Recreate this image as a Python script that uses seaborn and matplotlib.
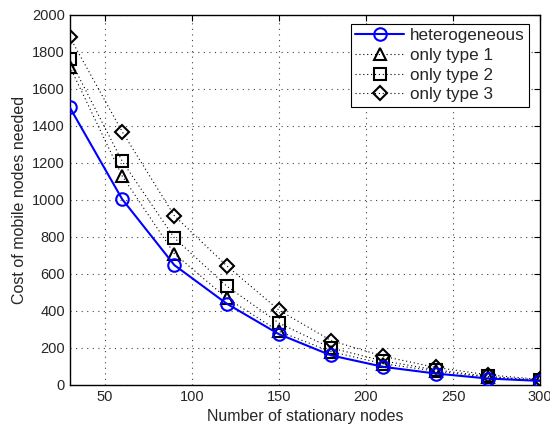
import matplotlib
matplotlib.use("Agg")
import matplotlib.pyplot as plt
import seaborn as sns
import pandas as pd

stationary_nodes = [30, 60, 90, 120, 150, 180, 210, 240, 270, 300]
heterogeneous = [1500, 1005, 648, 440, 275, 160, 98, 62, 35, 22]
only_type1 = [1720, 1130, 710, 470, 290, 180, 115, 75, 42, 25]
only_type2 = [1760, 1210, 795, 535, 335, 200, 130, 82, 46, 27]
only_type3 = [1880, 1370, 915, 645, 405, 240, 155, 95, 55, 30]

series_names = ["heterogeneous", "only type 1", "only type 2", "only type 3"]
x_ticks = [50, 100, 150, 200, 250, 300]
y_ticks = [0, 200, 400, 600, 800, 1000, 1200, 1400, 1600, 1800, 2000]

sns.set_style("white")
plt.rcParams["font.family"] = ["Liberation Sans", "DejaVu Sans"]

fig = plt.figure(figsize=(5.5, 4.28), dpi=100)
ax = fig.add_axes([0.127, 0.1005, 0.855, 0.8645])

dots = (0, (1, 2.5))
styles = [
    dict(color="#0000ff", linestyle="-", linewidth=1.5, marker="o", markersize=9),
    dict(color="black", linestyle=dots, linewidth=0.8, marker="^", markersize=9),
    dict(color="black", linestyle=dots, linewidth=0.8, marker="s", markersize=8),
    dict(color="black", linestyle=dots, linewidth=0.8, marker="D", markersize=7.5),
]

for name, values, st in zip(series_names,
                            [heterogeneous, only_type1, only_type2, only_type3],
                            styles):
    df = pd.DataFrame({"nodes": stationary_nodes, "cost": values})
    sns.lineplot(data=df, x="nodes", y="cost", ax=ax, label=name,
                 color=st["color"], linestyle=st["linestyle"],
                 linewidth=st["linewidth"], marker=st["marker"],
                 markersize=st["markersize"], markerfacecolor="none",
                 markeredgecolor=st["color"], markeredgewidth=1.5)

# draw heterogeneous on top
ax.lines[0].set_zorder(5)

ax.set_xlim(30, 300)
ax.set_ylim(0, 2000)
ax.set_xticks(x_ticks)
ax.set_yticks(y_ticks)
ax.set_xlabel("Number of stationary nodes", fontsize=11.5)
ax.set_ylabel("Cost of mobile nodes needed", fontsize=11.5)
ax.tick_params(axis="both", which="both", direction="in", top=True, right=True,
               labelsize=10.5, length=4, width=0.8, color="black")
ax.grid(True, linestyle=(0, (1, 4)), color="#444444", linewidth=0.8)
for sp in ax.spines.values():
    sp.set_color("black")
    sp.set_linewidth(1.0)

leg = ax.legend(loc="upper right", fontsize=12.3, frameon=True, fancybox=False,
                edgecolor="black", handlelength=2.9, borderpad=0.25,
                labelspacing=0.28, handletextpad=0.3, borderaxespad=0.4,
                bbox_to_anchor=(0.99, 0.995))
leg.get_frame().set_linewidth(0.8)
leg.get_frame().set_alpha(1)

fig.savefig("out.png", dpi=100)
